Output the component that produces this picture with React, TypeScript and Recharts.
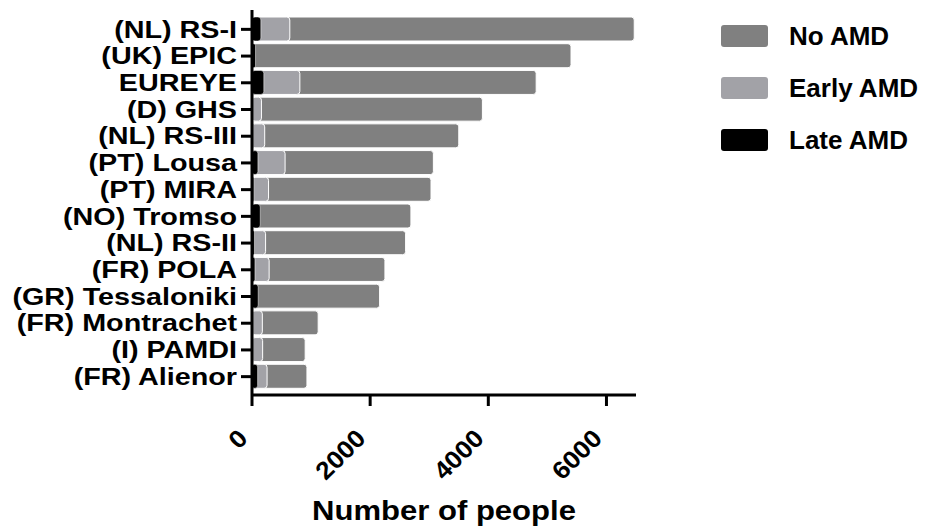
import React from 'react';
import { BarChart, Bar, XAxis, YAxis, Legend } from 'recharts';

const categories = [
  '(NL) RS-I',
  '(UK) EPIC',
  'EUREYE',
  '(D) GHS',
  '(NL) RS-III',
  '(PT) Lousa',
  '(PT) MIRA',
  '(NO) Tromso',
  '(NL) RS-II',
  '(FR) POLA',
  '(GR) Tessaloniki',
  '(FR) Montrachet',
  '(I) PAMDI',
  '(FR) Alienor',
];
const noAMD = [6470, 5400, 4810, 3900, 3500, 3070, 3030, 2690, 2600, 2250, 2160, 1120, 900, 930];
const earlyAMD = [640, 0, 810, 160, 215, 560, 280, 0, 230, 290, 0, 175, 180, 255];
const lateAMD = [150, 60, 200, 15, 25, 100, 30, 140, 40, 50, 105, 20, 20, 95];
const xTicks = [0, 2000, 4000, 6000];
const seriesNames = ['No AMD', 'Early AMD', 'Late AMD'];

const data = categories.map((name, i) => ({
  name,
  no: noAMD[i],
  early: earlyAMD[i],
  late: lateAMD[i],
}));

const FONT = '"Liberation Sans", Arial, Helvetica, sans-serif';

const YTick = (props: any) => {
  const { x, y, payload } = props;
  return (
    <text
      transform={`translate(${x},${y}) scale(1.25,1)`}
      textAnchor="end"
      dy="0.36em"
      fontFamily={FONT}
      fontWeight="bold"
      fontSize={23}
      fill="#000"
    >
      {payload.value}
    </text>
  );
};

const XTick = (props: any) => {
  const { x, y, payload } = props;
  return (
    <text
      transform={`translate(${x - 3},${y + 32}) rotate(-45) scale(1.05,1)`}
      textAnchor="end"
      fontFamily={FONT}
      fontWeight="bold"
      fontSize={25}
      fill="#000"
    >
      {payload.value}
    </text>
  );
};

const TitleLabel = (props: any) => {
  const vb = props.viewBox || {};
  const cx = vb.x + vb.width / 2;
  return (
    <text
      transform={`translate(${cx},520) scale(1.15,1)`}
      textAnchor="middle"
      fontFamily={FONT}
      fontWeight="bold"
      fontSize={27}
      fill="#000"
    >
      Number of people
    </text>
  );
};

const LegendContent = (props: any) => {
  const payload = [...(props.payload || [])].sort(
    (a: any, b: any) => seriesNames.indexOf(a.value) - seriesNames.indexOf(b.value)
  );
  return (
    <div style={{ fontFamily: FONT }}>
      {payload.map((p: any) => (
        <div
          key={p.value}
          style={{ display: 'flex', alignItems: 'center', height: 52 }}
        >
          <div
            style={{
              width: 47,
              height: 22,
              borderRadius: 3,
              background: p.color,
              marginRight: 21,
            }}
          />
          <span style={{ fontSize: 26, fontWeight: 'bold', color: '#000', whiteSpace: 'nowrap' }}>
            {p.value}
          </span>
        </div>
      ))}
    </div>
  );
};

export default function App() {
  return (
    <div style={{ position: 'absolute', left: 0, top: 0, width: 928, height: 531, background: '#fff' }}>
      <BarChart
        width={928}
        height={531}
        data={data}
        layout="vertical"
        margin={{ top: 10, right: 292, bottom: 106, left: 0 }}
        barSize={24}
        barGap={-24}
      >
        <XAxis
          type="number"
          domain={[0, 6500]}
          ticks={xTicks}
          allowDataOverflow
          height={30}
          stroke="#000"
          strokeWidth={3}
          tickSize={11}
          tick={<XTick />}
          tickLine={{ stroke: '#000', strokeWidth: 3 }}
          axisLine={{ stroke: '#000', strokeWidth: 3 }}
          label={{ content: <TitleLabel /> } as any}
          interval={0}
        />
        <YAxis
          type="category"
          dataKey="name"
          width={252}
          padding={{ top: 6, bottom: 5 }}
          tickSize={11}
          tickMargin={4}
          tick={<YTick />}
          tickLine={{ stroke: '#000', strokeWidth: 3 }}
          axisLine={{ stroke: '#000', strokeWidth: 3 }}
          interval={0}
        />
        <Legend
          layout="horizontal"
          verticalAlign="middle"
          align="center"
          content={<LegendContent />}
          wrapperStyle={{ left: 721, top: 10, width: 207, height: 160 }}
        />
        <Bar dataKey="no" name="No AMD" fill="#808080" stroke="#fff" strokeWidth={1} radius={3} isAnimationActive={false} />
        <Bar dataKey="early" name="Early AMD" fill="#a2a2a7" stroke="#fff" strokeWidth={1} radius={3} isAnimationActive={false} />
        <Bar dataKey="late" name="Late AMD" fill="#000000" stroke="#fff" strokeWidth={0.5} radius={3} isAnimationActive={false} />
      </BarChart>
    </div>
  );
}
